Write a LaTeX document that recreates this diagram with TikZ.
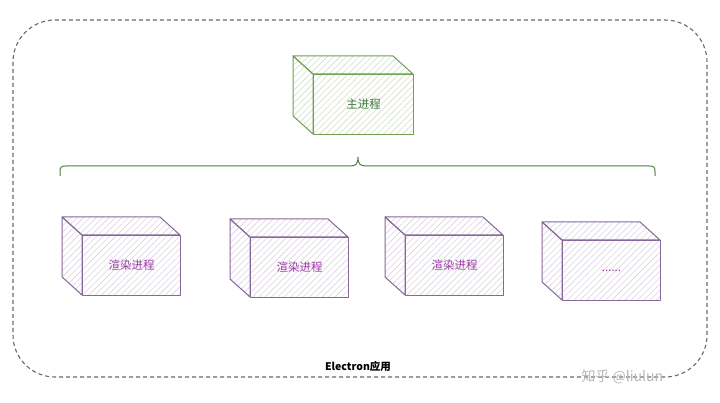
\documentclass[tikz,border=0pt]{standalone}
\usepackage{fontspec}
\setmainfont{Noto Sans CJK SC}
\usetikzlibrary{patterns.meta}
\definecolor{gedge}{HTML}{70A052}
\definecolor{gtext}{HTML}{3C7A3C}
\definecolor{ghatch}{HTML}{D2DECA}
\definecolor{pedge}{HTML}{86689A}
\definecolor{ptext}{HTML}{9A3AA4}
\definecolor{phatch}{HTML}{DDD3E3}
\definecolor{frame}{HTML}{6A6A6A}
\definecolor{brace}{HTML}{4E7E3E}
\tikzset{
  face/.style={draw=#1edge, line width=1pt, line join=round,
    pattern={Lines[angle=45,distance=4.5pt,line width=0.6pt]}, pattern color=#1hatch},
  frontface/.style={face=#1, rectangle, anchor=north west, inner sep=0pt,
    text=#1text, font=\fontsize{11.5}{13}\selectfont},
}
% #1 name, #2 x, #3 y, #4 color prefix, #5 width, #6 text
\newcommand\cuboidbox[6]{%
  \path[face=#4] (#2-20,#3-18) -- (#2+#5-20,#3-18) -- (#2+#5,#3) -- (#2,#3) -- cycle;
  \path[face=#4] (#2-20,#3-18) -- (#2,#3) -- (#2,#3+60) -- (#2-20,#3+42) -- cycle;
  \node[frontface=#4, minimum width=#5pt, minimum height=60pt] (#1) at (#2,#3) {#6};
}
\begin{document}
\begin{tikzpicture}[x=1pt,y=-1pt]
\useasboundingbox (0,0) rectangle (720,403);
\fill[white] (0,0) rectangle (720,403);
\draw[frame, line width=1.1pt, dash pattern=on 4pt off 3pt, rounded corners=42pt]
  (13,20) rectangle (707,377);
\node[font=\bfseries\fontsize{10.5}{12}\selectfont] (app) at (358,366) {Electron应用};
\node[text=black!28, font=\fontsize{14}{16}\selectfont, anchor=west] (mark) at (578,377) {知乎 @liulun};
\cuboidbox{main}{313}{74}{g}{100}{主进程}
\coordinate (bl) at (60,176);
\coordinate (br) at (655,176);
\coordinate (bt) at (358,157);
\draw[brace, line width=1pt]
  (bl) -- (60,172) .. controls (60,167) and (61,166) .. (66,166) -- (350,166)
  .. controls (356,166) and (358,164) .. (bt)
  .. controls (358,164) and (360,166) .. (366,166) -- (649,166)
  .. controls (654,166) and (655,167) .. (655,172) -- (br);
\cuboidbox{r1}{82}{235}{p}{98}{渲染进程}
\cuboidbox{r2}{250}{237}{p}{98}{渲染进程}
\cuboidbox{r3}{405}{235}{p}{98}{渲染进程}
\cuboidbox{r4}{562}{240}{p}{98}{......}
\end{tikzpicture}
\end{document}
